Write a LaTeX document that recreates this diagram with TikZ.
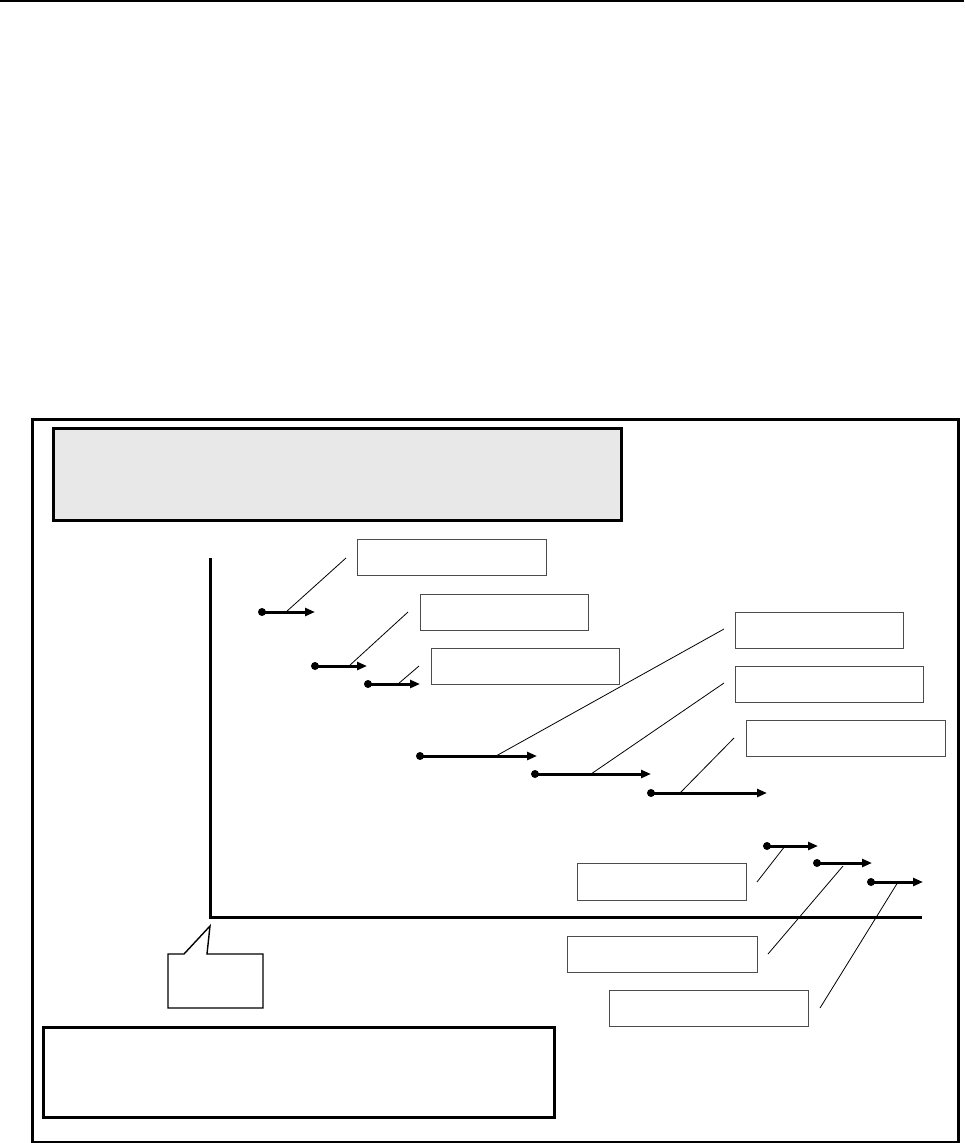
\documentclass[tikz,border=0pt]{standalone}
\usetikzlibrary{arrows.meta}
\definecolor{panelgrey}{HTML}{E8E8E8}
\tikzset{
  lbl/.style={draw=black!70, line width=1.1pt, inner sep=0pt, anchor=north west},
  vec/.style={line width=3pt, -{Triangle[length=10pt,width=8pt]}},
  lead/.style={line width=0.8pt},
  axisline/.style={line width=3pt},
  dotmark/.style={circle, fill=black, inner sep=0pt, minimum size=8pt},
}
\begin{document}
\begin{tikzpicture}[x=1pt,y=-1pt]
\useasboundingbox (0,0) rectangle (964,1143);
% top rule
\coordinate (r1) at (0,1); \coordinate (r2) at (964,1);
\draw[line width=2.2pt] (r1) -- (r2);
% outer frame
\node[draw, line width=3pt, anchor=north west, inner sep=0pt, minimum width=926pt, minimum height=723pt] (frame) at (31,418) {};
% grey header panel
\node[draw, fill=panelgrey, line width=3pt, anchor=north west, inner sep=0pt, minimum width=568pt, minimum height=92pt] (head) at (52,427) {};
% bottom panel
\node[draw, line width=2.6pt, anchor=north west, inner sep=0pt, minimum width=511pt, minimum height=90pt] (foot) at (42,1026) {};
% axes
\coordinate (ytop) at (210,558);
\coordinate (orig) at (210,917);
\coordinate (xend) at (922,917);
\draw[axisline] (ytop) -- (orig) -- (xend);
% callout
\draw[line width=1.4pt] (168,954) -- (184,954) -- (210,926) -- (207,954) -- (263,954) -- (263,1008) -- (168,1008) -- cycle;
% label boxes
\node[lbl, minimum width=189pt, minimum height=36pt] (bA) at (357,539) {};
\node[lbl, minimum width=168pt, minimum height=36pt] (bB) at (420,594) {};
\node[lbl, minimum width=188pt, minimum height=36pt] (bC) at (431,648) {};
\node[lbl, minimum width=168pt, minimum height=36pt] (bD) at (735,612) {};
\node[lbl, minimum width=188pt, minimum height=36pt] (bE) at (735,666) {};
\node[lbl, minimum width=199pt, minimum height=36pt] (bF) at (746,720) {};
\node[lbl, minimum width=169pt, minimum height=37pt] (bG) at (577,863) {};
\node[lbl, minimum width=190pt, minimum height=36pt] (bH) at (567,936) {};
\node[lbl, minimum width=199pt, minimum height=36pt] (bI) at (609,990) {};
% vectors: start dots and tips
\foreach \n/\sx/\ex/\yy in {1/262/315/612, 2/315/367/666, 3/368/420/684, 4/420/537/756, 5/535/651/774, 6/651/767/793, 7/767/818/846, 8/817/872/863, 9/871/923/882} {
  \node[dotmark] (s\n) at (\sx,\yy) {};
  \coordinate (e\n) at (\ex,\yy);
}
\foreach \n in {1,...,9} { \draw[vec] (s\n.center) -- (e\n); }
% leader ends
\coordinate (a1) at (286,612); \coordinate (t1) at (346,558);
\coordinate (a2) at (349,666); \coordinate (t2) at (408,612);
\coordinate (a3) at (398,684); \coordinate (t3) at (419,666);
\coordinate (a4) at (496,756); \coordinate (t4) at (724,629);
\coordinate (a5) at (591,774); \coordinate (t5) at (724,683);
\coordinate (a6) at (680,793); \coordinate (t6) at (734,738);
\coordinate (a7) at (785,846); \coordinate (t7) at (757,882);
\coordinate (a8) at (843,866); \coordinate (t8) at (768,954);
\coordinate (a9) at (898,882); \coordinate (t9) at (820,1008);
\foreach \n in {1,...,9} { \draw[lead] (a\n) -- (t\n); }
\end{tikzpicture}
\end{document}
